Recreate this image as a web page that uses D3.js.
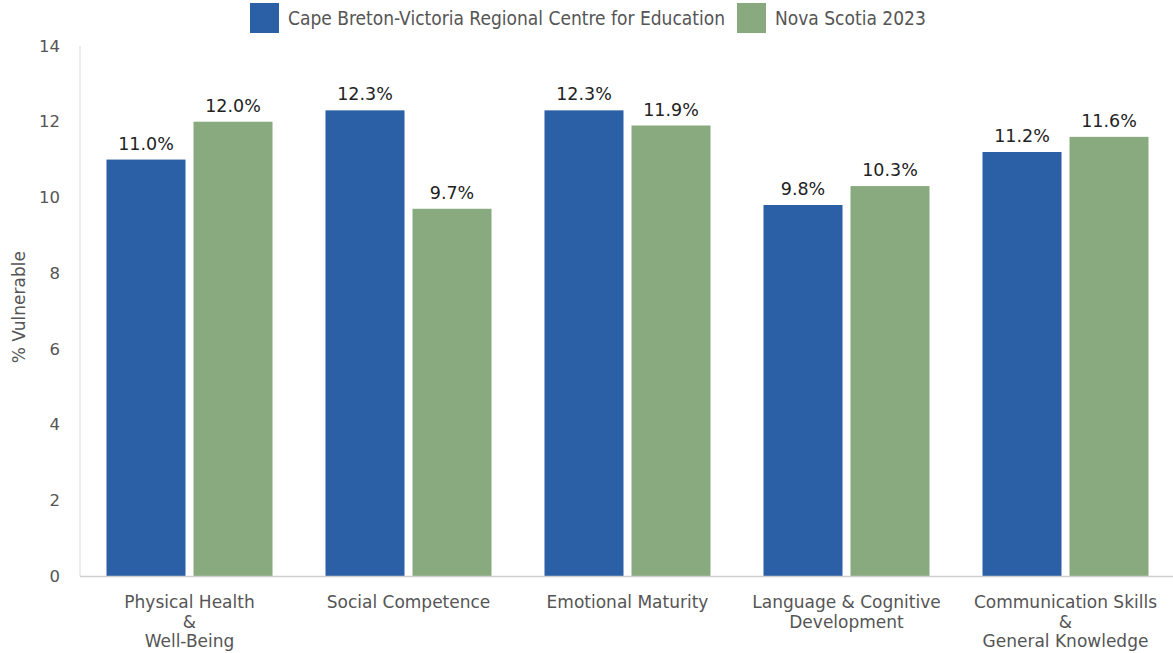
<!DOCTYPE html>
<html>
<head>
<meta charset="utf-8">
<script src="https://cdn.jsdelivr.net/npm/d3@7"></script>
<style>
  body { margin: 0; background: #fff; }
  text { font-family: "DejaVu Sans", sans-serif; }
</style>
</head>
<body>
<script>
// data
var categories = [
  ["Physical Health", "&", "Well-Being"],
  ["Social Competence"],
  ["Emotional Maturity"],
  ["Language & Cognitive", "Development"],
  ["Communication Skills", "&", "General Knowledge"]
];
var seriesNames = ["Cape Breton-Victoria Regional Centre for Education", "Nova Scotia 2023"];
var regionValues = [11.0, 12.3, 12.3, 9.8, 11.2];
var provinceValues = [12.0, 9.7, 11.9, 10.3, 11.6];
var yTicks = [0, 2, 4, 6, 8, 10, 12, 14];
var colors = ["#2b5fa6", "#88aa7e"];

var width = 1173, height = 653;
var margin = {top: 46, right: 0, bottom: 77, left: 80};

var svg = d3.select("body").append("svg")
    .attr("width", width)
    .attr("height", height);

// scales
var x0 = d3.scaleBand()
    .domain(d3.range(categories.length))
    .range([margin.left, margin.left + 1095])
    .paddingInner(0.242)
    .paddingOuter(0.121);

var x1 = d3.scaleBand()
    .domain([0, 1])
    .range([0, x0.bandwidth()])
    .paddingInner(0.092);

var y = d3.scaleLinear()
    .domain([0, 14])
    .range([height - margin.bottom, margin.top]);

// y axis line
svg.append("line")
    .attr("x1", margin.left).attr("x2", margin.left)
    .attr("y1", y(14)).attr("y2", y(0))
    .attr("stroke", "#d9d9d9").attr("stroke-width", 1);

// y tick labels
var yAxis = svg.append("g")
    .attr("transform", "translate(" + (margin.left - 17) + ",0)")
    .call(d3.axisLeft(y).tickValues(yTicks).tickSize(0).tickFormat(d3.format("d")));
yAxis.select(".domain").remove();
yAxis.selectAll("text")
    .attr("fill", "#555")
    .style("font-size", "16.5px")
    .style("font-family", "DejaVu Sans, sans-serif");

// y label
svg.append("text")
    .attr("transform", "translate(25," + y(7.1) + ") rotate(-90)")
    .attr("text-anchor", "middle")
    .attr("fill", "#555")
    .style("font-size", "17px")
    .text("% Vulnerable");

// bars
var rows = categories.map(function(c, i) {
  return [regionValues[i], provinceValues[i]];
});

var groups = svg.selectAll(".group")
    .data(rows)
    .enter().append("g")
    .attr("transform", function(d, i) { return "translate(" + x0(i) + ",0)"; });

groups.selectAll("rect")
    .data(function(d) { return d; })
    .enter().append("rect")
    .attr("x", function(d, j) { return x1(j); })
    .attr("y", function(d) { return y(d); })
    .attr("width", x1.bandwidth())
    .attr("height", function(d) { return y(0) - y(d); })
    .attr("fill", function(d, j) { return colors[j]; });

groups.selectAll(".val")
    .data(function(d) { return d; })
    .enter().append("text")
    .attr("x", function(d, j) { return x1(j) + x1.bandwidth() / 2; })
    .attr("y", function(d) { return y(d) - 10; })
    .attr("text-anchor", "middle")
    .attr("fill", "#222")
    .style("font-size", "17.5px")
    .text(function(d) { return d.toFixed(1) + "%"; });

// baseline
svg.append("line")
    .attr("x1", margin.left).attr("x2", width)
    .attr("y1", y(0) + 0.5).attr("y2", y(0) + 0.5)
    .attr("stroke", "#d0d0d0").attr("stroke-width", 1.5);

// category labels
var catLabels = svg.selectAll(".cat")
    .data(categories)
    .enter().append("text")
    .attr("text-anchor", "middle")
    .attr("fill", "#555")
    .style("font-size", "17px");

catLabels.selectAll("tspan")
    .data(function(d, i) { return d.map(function(s) { return {s: s, i: i}; }); })
    .enter().append("tspan")
    .attr("x", function(d) { return x0(d.i) + x0.bandwidth() / 2; })
    .attr("y", function(d, k) { return y(0) + 32 + k * 19.5; })
    .text(function(d) { return d.s; });

// legend
var legend = svg.append("g").attr("class", "legend");
var legendX = [250, 737];
seriesNames.forEach(function(name, j) {
  legend.append("rect")
      .attr("x", legendX[j]).attr("y", 3)
      .attr("width", 29).attr("height", 30)
      .attr("fill", colors[j]);
  legend.append("text")
      .attr("x", legendX[j] + 38).attr("y", 25)
      .attr("fill", "#555")
      .style("font-size", "19px")
      .style("font-family", "DejaVu Sans Condensed, DejaVu Sans, sans-serif")
      .style("font-stretch", "condensed")
      .text(name);
});
</script>
</body>
</html>
